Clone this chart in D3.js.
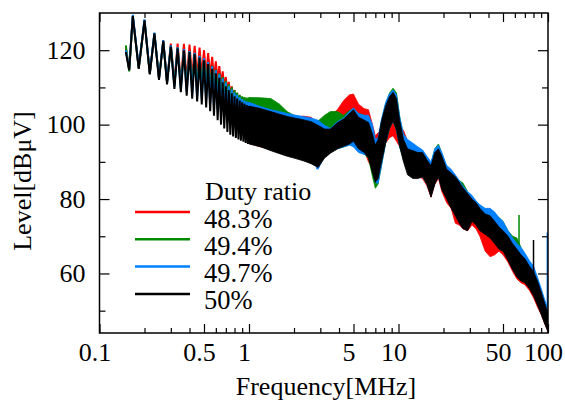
<!DOCTYPE html>
<html>
<head>
<meta charset="utf-8">
<script src="https://cdn.jsdelivr.net/npm/d3@7"></script>
<style>
  body { margin: 0; background: white; }
  text { font-family: "Liberation Serif", "Times New Roman", serif; }
</style>
</head>
<body>
<div id="viz"></div>
<script>
let w = 565;
let h = 401;
let plotLeft = 99.5, plotRight = 548, plotTop = 13, plotBottom = 333;

// ---- data ----
let seriesNames = ["48.3%", "49.4%", "49.7%", "50%"];

// harmonic comb, 0.15 - 1 MHz (peaks and valleys)
let combF = [0.150, 0.158, 0.167, 0.183, 0.200, 0.217, 0.233, 0.250, 0.267, 0.283, 0.300, 0.317, 0.333, 0.350, 0.367, 0.383, 0.400, 0.417, 0.433, 0.450, 0.467, 0.483, 0.500, 0.517, 0.533, 0.550, 0.567, 0.583, 0.600, 0.617, 0.633, 0.650, 0.667, 0.683, 0.700, 0.717, 0.733, 0.750, 0.767, 0.783, 0.800, 0.817, 0.833, 0.850, 0.867, 0.883, 0.900, 0.917, 0.933, 0.950, 0.967, 0.983, 1.000];
let comb483 = [120.5, 114.8, 129, 115.2, 127.8, 113.8, 124.3, 112.5, 122.5, 111.5, 121.8, 111, 121.8, 111.5, 121.7, 112, 121.5, 112.5, 121.2, 112.8, 120.7, 113, 120, 113, 119.2, 112.8, 118.2, 112.3, 117, 111.6, 115.7, 110.8, 114.3, 109.8, 112.8, 108.8, 111.5, 107.8, 110.3, 106.8, 109.3, 105.8, 108.5, 104.8, 107.8, 104, 107.3, 103.3, 107, 102.6, 106.7, 102, 106.5];
let comb494 = [121.3, 114.3, 129, 115.2, 128, 113.8, 124.5, 112.5, 122.3, 111.5, 121.2, 110.8, 120.7, 110.5, 120.2, 110.3, 119.6, 110.3, 119, 110.3, 118.3, 110.2, 117.6, 110, 116.8, 109.6, 115.8, 109.2, 114.8, 108.6, 113.8, 108, 112.8, 107.3, 111.8, 106.6, 110.8, 105.8, 110, 105.2, 109.3, 104.6, 108.6, 104, 108, 103.5, 107.6, 103, 107.4, 102.6, 107.3, 102.2, 107.3];
let comb497 = [120, 115, 129.5, 115.3, 128.3, 113.8, 124.7, 112.4, 122.7, 111.3, 121.3, 110.2, 120.8, 109.5, 120.3, 108.8, 119.8, 108.2, 119.3, 107.6, 118.5, 107, 117.8, 106.5, 116.8, 105.8, 115.7, 104.8, 114.6, 103.8, 113.5, 102.8, 112.4, 102, 111.3, 101.2, 110.3, 100.5, 109.4, 100, 108.6, 99.5, 108, 99, 107.4, 98.6, 106.9, 98.3, 106.5, 98, 106.2, 97.7, 106];
let comb500 = [119.5, 114.6, 129.2, 115, 128, 113.5, 124.5, 112, 122.5, 110.8, 121, 109.6, 120.5, 108.7, 120, 107.8, 119.5, 107, 119, 106.2, 118, 105.4, 117.3, 104.6, 116.3, 103.6, 115, 102.4, 113.8, 101.2, 112.6, 100, 111.4, 99, 110.3, 98, 109.3, 97.3, 108.4, 96.8, 107.6, 96.4, 107, 96, 106.5, 95.7, 106, 95.4, 105.6, 95.1, 105.3, 94.8, 105];

// dense part, 1 - 100 MHz (lower and upper edge of the band)
let bandF = [1.0, 1.2, 1.4, 1.6, 1.8, 2.0, 2.3, 2.6, 2.9, 3.2, 3.5, 3.9, 4.3, 4.7, 5.0, 5.4, 5.9, 6.3, 6.7, 7.0, 7.3, 7.7, 8.2, 8.7, 9.2, 9.7, 10.2, 10.8, 11.5, 12.5, 13.5, 14.5, 15.5, 16.5, 17.5, 18.5, 19.5, 21, 22.5, 24, 25.5, 27, 29, 31, 33, 35, 38, 41, 44, 47, 50, 54, 58, 62, 66, 70, 75, 80, 85, 90, 95, 100];
let lo483 = [95, 94, 93.5, 92.5, 92, 91.5, 90.5, 90, 89, 91.5, 92.5, 93.5, 95, 96, 96, 95, 93, 90, 88, 86, 89, 92, 95, 96.5, 97, 95.5, 94, 91.5, 88, 86.5, 86, 85.5, 83.5, 80.5, 84, 85.5, 82, 79, 77.5, 73.5, 73, 72, 71.5, 73, 72, 70, 66, 64.5, 65, 66, 65, 63, 60.5, 58.5, 57.5, 57, 55.5, 53.5, 51, 49, 46.5, 44.5];
let hi483 = [106.5, 106, 105.5, 104, 102.5, 101.8, 102.3, 102, 100.3, 100.5, 102.5, 104, 106.5, 108, 108.2, 105.5, 104.3, 104, 100, 97, 97.8, 98.5, 100, 100.2, 100.8, 100, 99.3, 98.5, 95.5, 94.5, 93, 92.5, 91, 89, 92.5, 93.5, 91, 88, 86.5, 85, 84, 82.5, 81.5, 80, 79, 77.5, 76.5, 75.5, 75.5, 73, 72, 70, 68.5, 66.5, 65, 64.5, 62, 61, 58, 55, 52, 51];
let lo494 = [96, 95.5, 94.5, 94, 93, 92.5, 92, 90.5, 89, 91.5, 92.5, 93.5, 94, 94.5, 95, 93, 92, 91, 86, 82.9, 84, 89, 95, 99, 101, 98.5, 94, 90.5, 87.5, 86.5, 86, 86, 84, 81, 84.5, 86, 83, 80.5, 78, 76, 74, 73, 73, 74, 74, 72, 71, 70, 68.5, 67, 66.5, 64, 62, 60, 59, 58, 56.5, 55, 52, 50, 47, 45];
let hi494 = [107.3, 107.2, 107, 105.5, 103.5, 102.5, 101.8, 101.3, 101, 102.5, 103.5, 103.5, 102.5, 103.8, 104.3, 103, 102.5, 102, 99, 95, 95.5, 101, 105.5, 108.5, 109.8, 108.5, 102, 97, 95, 94.2, 93.5, 93, 91, 89.5, 93.5, 94.8, 92.3, 88.5, 87.5, 86, 85, 84.3, 82, 80.5, 79.5, 78.3, 77, 77, 76, 75, 74, 71.5, 70, 69.5, 67, 65, 63, 61.5, 58.5, 55.5, 52.5, 50];
let lo497 = [95.5, 95, 94, 93.5, 93, 92.5, 92, 90.5, 88, 91.5, 92.5, 93.5, 94, 94.5, 94, 92.5, 92, 91.5, 88, 84.5, 84.2, 89, 95, 99, 101, 98.5, 94, 91, 88, 87, 86.5, 86, 84, 81, 84.5, 86, 83, 80.5, 78, 76, 74, 73, 73, 74.5, 74, 72, 71, 70, 69, 67.5, 67, 64, 62, 60, 59, 58, 56.5, 55, 52, 50, 47, 45];
let hi497 = [106, 104.8, 104, 103.5, 103, 102.6, 102.2, 101.8, 101.2, 99.8, 99, 100.8, 101.8, 103.5, 104.5, 103, 102.5, 102.5, 100, 96, 96.5, 101.5, 106, 108.3, 109.3, 108, 102, 97.5, 96, 95, 94, 93.2, 91.5, 90, 93.5, 94.5, 92.5, 89, 88, 86.5, 85, 83.5, 82, 81, 79.5, 78.5, 77.5, 77.5, 76.5, 75, 74, 71.5, 69.5, 68, 67, 65.5, 63.5, 62, 59, 56, 53, 50.5];
let lo500 = [94.8, 94, 93, 92.2, 91.5, 91, 90.3, 89.5, 88.5, 91, 92.3, 93.5, 94.2, 94.8, 95.5, 93.5, 92.5, 91, 87, 84.5, 85.5, 90, 95, 99, 101, 98.5, 94, 90, 86.5, 85.5, 85.5, 86, 84, 80.5, 84, 86, 82.5, 80, 77.5, 75.5, 73.5, 72, 71.5, 74, 73, 71.5, 70.5, 69.5, 68, 66.5, 66, 63.5, 61, 59, 58, 57.5, 56, 54, 51.5, 49, 46.5, 44.3];
let hi500 = [105, 104.3, 103.5, 102.8, 102.2, 101.8, 101.3, 100.8, 99.8, 98.8, 98.8, 100.5, 101.5, 103, 104, 102, 101.2, 100.6, 97.5, 94.5, 96, 101, 105, 107.5, 108.7, 107, 101, 96, 93.5, 93, 92.5, 92.5, 90.5, 89, 92.5, 93.5, 91.5, 88, 87, 86, 84.5, 83, 81.5, 80, 79, 77.5, 76, 75.5, 74, 72.5, 71.5, 70, 68, 66.5, 65, 64, 62, 60.5, 58, 55, 52, 49.5];

// single tall spikes: [MHz, low, high]
let spikes483 = [[51, 65, 72], [99.5, 44, 51]];
let spikes494 = [[64, 66, 75.7]];
let spikes497 = [[2.85, 88, 92], [99, 50, 71]];
let spikes500 = [[80, 57.4, 69]];

// axis ticks
let xMajor = [0.1, 0.5, 1, 5, 10, 50, 100];
let xMinor = [0.2, 0.3, 0.4, 0.6, 0.7, 0.8, 0.9, 2, 3, 4, 6, 7, 8, 9, 20, 30, 40, 60, 70, 80, 90];
let yMajor = [60, 80, 100, 120];
let yMinor = [50, 70, 90, 110];

let colors = ["#ff0000", "#008a00", "#0080ff", "#000000"];

let viz = d3.select("#viz")
  .append("svg")
    .attr("width", w)
    .attr("height", h)
    .style("display", "block")
;

let x = d3.scaleLog().domain([0.1, 100]).range([plotLeft, plotRight]);
let y = d3.scaleLinear().domain([44, 130]).range([plotBottom, plotTop]);

viz.append("clipPath").attr("id", "plotclip")
  .append("rect")
    .attr("x", plotLeft).attr("y", plotTop)
    .attr("width", plotRight - plotLeft).attr("height", plotBottom - plotTop);

let dataGroup = viz.append("g").attr("clip-path", "url(#plotclip)");

let combs = [comb483, comb494, comb497, comb500];
let los = [lo483, lo494, lo497, lo500];
let his = [hi483, hi494, hi497, hi500];
let spikes = [spikes483, spikes494, spikes497, spikes500];

let combLine = d3.line().x(d => x(d[0])).y(d => y(d[1]));
let bandArea = d3.area().x(d => x(d.f)).y0(d => y(d.lo)).y1(d => y(d.hi));

seriesNames.forEach(function(name, s){
  let g = dataGroup.append("g").attr("class", "series");
  let band = bandF.map((f, i) => ({f: f, lo: los[s][i], hi: his[s][i]}));

  g.append("path")
    .datum(band)
    .attr("d", bandArea)
    .attr("fill", colors[s])
    .attr("stroke", colors[s])
    .attr("stroke-width", 0.8);

  g.append("path")
    .datum(d3.zip(combF, combs[s]))
    .attr("d", combLine)
    .attr("fill", "none")
    .attr("stroke", colors[s])
    .attr("stroke-width", 2)
    .attr("stroke-linejoin", "miter");

  g.selectAll(".spike").data(spikes[s]).enter()
    .append("line")
      .attr("x1", d => x(d[0])).attr("x2", d => x(d[0]))
      .attr("y1", d => y(d[1])).attr("y2", d => y(d[2]))
      .attr("stroke", colors[s])
      .attr("stroke-width", 1.5);
});

// axes, ticks pointing inwards
function styleAxis(g){
  g.select(".domain").remove();
  g.selectAll(".tick line").attr("stroke", "#000").attr("stroke-width", 1.2);
  g.selectAll(".tick text")
    .attr("fill", "#000")
    .attr("font-family", "'Liberation Serif', 'Times New Roman', serif")
    .attr("font-size", 26);
}

viz.append("g")
  .attr("transform", "translate(0," + plotBottom + ")")
  .call(d3.axisBottom(x).tickValues(xMajor).tickSize(-9).tickPadding(10).tickFormat(d => d))
  .call(styleAxis)
  .call(g => g.selectAll(".tick text").attr("dx", -5));

viz.append("g")
  .attr("transform", "translate(0," + plotBottom + ")")
  .call(d3.axisBottom(x).tickValues(xMinor).tickSize(-5).tickFormat(""))
  .call(styleAxis);

viz.append("g")
  .attr("transform", "translate(0," + plotTop + ")")
  .call(d3.axisTop(x).tickValues(xMajor).tickSize(-9).tickFormat(""))
  .call(styleAxis);

viz.append("g")
  .attr("transform", "translate(0," + plotTop + ")")
  .call(d3.axisTop(x).tickValues(xMinor).tickSize(-5).tickFormat(""))
  .call(styleAxis);

viz.append("g")
  .attr("transform", "translate(" + plotLeft + ",0)")
  .call(d3.axisLeft(y).tickValues(yMajor).tickSize(-10).tickPadding(14))
  .call(styleAxis);

viz.append("g")
  .attr("transform", "translate(" + plotLeft + ",0)")
  .call(d3.axisLeft(y).tickValues(yMinor).tickSize(-6).tickFormat(""))
  .call(styleAxis);

viz.append("g")
  .attr("transform", "translate(" + plotRight + ",0)")
  .call(d3.axisRight(y).tickValues(yMajor).tickSize(-10).tickFormat(""))
  .call(styleAxis);

viz.append("g")
  .attr("transform", "translate(" + plotRight + ",0)")
  .call(d3.axisRight(y).tickValues(yMinor).tickSize(-6).tickFormat(""))
  .call(styleAxis);

// frame
viz.append("rect")
  .attr("x", plotLeft).attr("y", plotTop)
  .attr("width", plotRight - plotLeft).attr("height", plotBottom - plotTop)
  .attr("fill", "none")
  .attr("stroke", "#000")
  .attr("stroke-width", 1.5);

// axis titles
viz.append("text")
  .text("Frequency[MHz]")
  .attr("x", 326)
  .attr("y", 395)
  .attr("text-anchor", "middle")
  .attr("font-size", 26);

viz.append("text")
  .text("Level[dBμV]")
  .attr("transform", "translate(31,181) rotate(-90)")
  .attr("text-anchor", "middle")
  .attr("font-size", 26);

// legend
let legend = viz.append("g").attr("class", "legend");
legend.append("text")
  .text("Duty ratio")
  .attr("x", 205)
  .attr("y", 200)
  .attr("font-size", 26);

seriesNames.forEach(function(name, i){
  let ly = 212 + i * 27.3;
  legend.append("line")
    .attr("x1", 135).attr("x2", 190)
    .attr("y1", ly).attr("y2", ly)
    .attr("stroke", colors[i])
    .attr("stroke-width", 2.5);
  legend.append("text")
    .text(name)
    .attr("x", 204)
    .attr("y", ly + 15.5)
    .attr("font-size", 26.5);
});
</script>
</body>
</html>
